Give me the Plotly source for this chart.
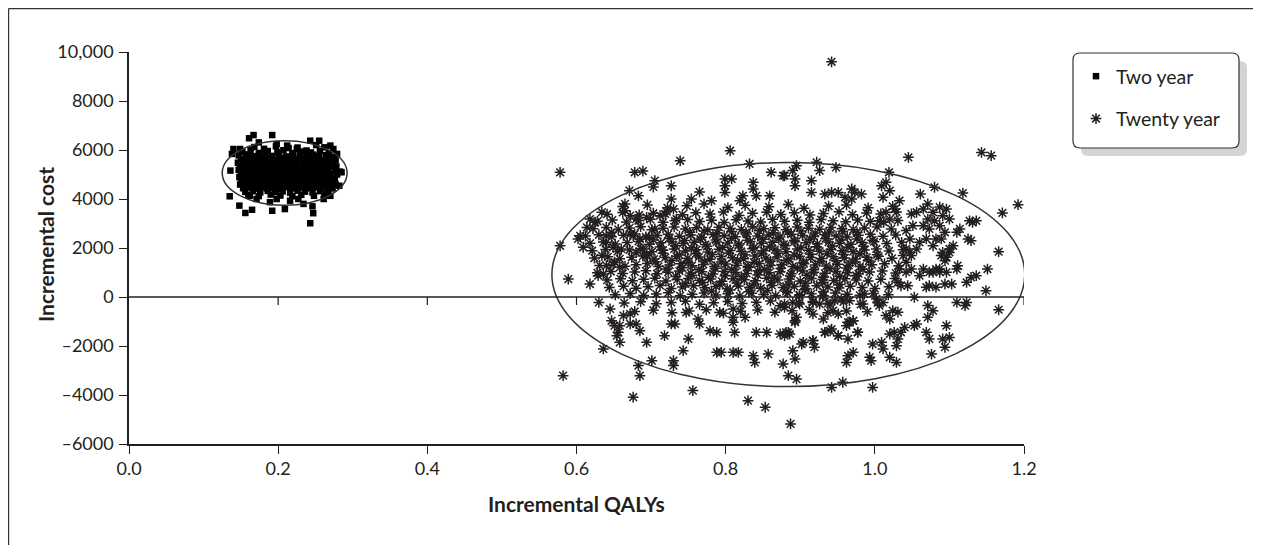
import plotly.graph_objects as go

# ---------------- data ----------------
TWO_YEAR_POINTS = [
    # outliers around the cluster
    (0.167, 6610), (0.192, 6610), (0.161, 6480), (0.140, 6040), (0.149, 6040), (0.138, 5840),
    (0.136, 5160), (0.135, 4110), (0.148, 3730), (0.156, 3430), (0.165, 3560), (0.192, 3520),
    (0.209, 3590), (0.246, 3700), (0.247, 3420), (0.243, 3010), (0.243, 6380), (0.255, 6380),
    (0.270, 6180), (0.274, 6040), (0.279, 5840), (0.285, 5090), (0.282, 4540), (0.270, 4130),
    (0.174, 6310), (0.198, 6240), (0.212, 6180), (0.225, 6040), (0.189, 3870), (0.198, 4000),
    (0.171, 4000), (0.162, 4130), (0.216, 3930), (0.227, 4000), (0.234, 3800), (0.261, 4000),
    (0.267, 4200),
    # core of the cluster
    (0.168, 6120), (0.181, 6050), (0.197, 6150), (0.214, 6080), (0.226, 6100), (0.238, 5980), (0.251, 6200), (0.262, 6110),
    (0.152, 5930), (0.163, 5990), (0.175, 5880), (0.186, 5960), (0.199, 5910), (0.207, 5990), (0.219, 5870), (0.231, 5940),
    (0.244, 5900), (0.256, 5960), (0.268, 5880),
    (0.147, 5780), (0.158, 5820), (0.166, 5750), (0.174, 5830), (0.183, 5790), (0.192, 5760), (0.201, 5810), (0.211, 5740),
    (0.220, 5800), (0.229, 5830), (0.238, 5770), (0.247, 5810), (0.255, 5750), (0.264, 5790), (0.273, 5720),
    (0.150, 5640), (0.157, 5670), (0.165, 5610), (0.173, 5690), (0.181, 5630), (0.189, 5660), (0.197, 5600), (0.205, 5680),
    (0.213, 5640), (0.221, 5610), (0.229, 5690), (0.237, 5650), (0.245, 5620), (0.253, 5670), (0.261, 5600), (0.269, 5660),
    (0.277, 5590),
    (0.146, 5480), (0.154, 5520), (0.162, 5470), (0.170, 5530), (0.178, 5490), (0.186, 5510), (0.194, 5460), (0.202, 5540),
    (0.210, 5500), (0.218, 5470), (0.226, 5520), (0.234, 5490), (0.242, 5530), (0.250, 5460), (0.258, 5510), (0.266, 5480),
    (0.274, 5440),
    (0.149, 5350), (0.157, 5320), (0.165, 5380), (0.173, 5340), (0.181, 5360), (0.189, 5310), (0.197, 5370), (0.205, 5330),
    (0.213, 5390), (0.221, 5340), (0.229, 5320), (0.237, 5370), (0.245, 5350), (0.253, 5310), (0.261, 5360), (0.269, 5340),
    (0.278, 5330),
    (0.147, 5190), (0.155, 5220), (0.163, 5170), (0.171, 5230), (0.179, 5180), (0.187, 5210), (0.195, 5160), (0.203, 5240),
    (0.211, 5200), (0.219, 5170), (0.227, 5220), (0.235, 5190), (0.243, 5230), (0.251, 5160), (0.259, 5210), (0.267, 5180),
    (0.276, 5150), (0.283, 5120),
    (0.150, 5040), (0.158, 5070), (0.166, 5020), (0.174, 5080), (0.182, 5030), (0.190, 5060), (0.198, 5010), (0.206, 5090),
    (0.214, 5050), (0.222, 5020), (0.230, 5070), (0.238, 5040), (0.246, 5080), (0.254, 5010), (0.262, 5060), (0.270, 5030),
    (0.279, 5000),
    (0.148, 4890), (0.156, 4920), (0.164, 4870), (0.172, 4930), (0.180, 4880), (0.188, 4910), (0.196, 4860), (0.204, 4940),
    (0.212, 4900), (0.220, 4870), (0.228, 4920), (0.236, 4890), (0.244, 4930), (0.252, 4860), (0.260, 4910), (0.268, 4880),
    (0.276, 4850),
    (0.151, 4740), (0.159, 4770), (0.167, 4720), (0.175, 4780), (0.183, 4730), (0.191, 4760), (0.199, 4710), (0.207, 4790),
    (0.215, 4750), (0.223, 4720), (0.231, 4770), (0.239, 4740), (0.247, 4780), (0.255, 4710), (0.263, 4760), (0.271, 4730),
    (0.149, 4590), (0.157, 4620), (0.165, 4570), (0.173, 4630), (0.181, 4580), (0.189, 4610), (0.197, 4560), (0.205, 4640),
    (0.213, 4600), (0.221, 4570), (0.229, 4620), (0.237, 4590), (0.245, 4630), (0.253, 4560), (0.261, 4610), (0.269, 4580),
    (0.277, 4600),
    (0.153, 4440), (0.161, 4470), (0.169, 4420), (0.177, 4480), (0.185, 4430), (0.193, 4460), (0.201, 4410), (0.209, 4490),
    (0.217, 4450), (0.225, 4420), (0.233, 4470), (0.241, 4440), (0.249, 4480), (0.257, 4410), (0.265, 4460), (0.273, 4430),
    (0.156, 4290), (0.166, 4320), (0.176, 4270), (0.186, 4330), (0.196, 4280), (0.206, 4310), (0.216, 4260), (0.226, 4340),
    (0.236, 4300), (0.246, 4270), (0.256, 4320), (0.266, 4290),
    (0.160, 4160), (0.174, 4120), (0.190, 4180), (0.203, 4140), (0.219, 4110), (0.231, 4170), (0.248, 4130), (0.262, 4150),
]

TWENTY_YEAR_POINTS = [
    # upper and left outliers
    (0.942, 9600), (0.578, 5090), (0.678, 5090), (0.689, 5140), (0.739, 5560), (0.806, 5970), (0.832, 5430),
    (0.705, 4750), (0.703, 4490), (0.727, 4540), (0.671, 4340), (0.683, 4130), (0.765, 4290), (0.754, 4000),
    (0.781, 3930), (0.799, 4820), (0.808, 4820), (0.799, 4540), (0.799, 4270), (0.837, 4680), (0.837, 4410),
    (0.841, 4130), (0.823, 4130), (0.819, 3930), (0.859, 4130), (0.861, 5090), (0.877, 4950), (0.890, 5160),
    (0.665, 3800), (0.665, 3520), (0.672, 3320), (0.680, 3180), (0.694, 3250), (0.634, 3460), (0.625, 3050),
    (0.618, 3180), (0.614, 2840), (0.605, 2500), (0.602, 2370), (0.609, 2030), (0.578, 2090), (0.589, 730),
    (0.618, 530), (0.629, 870), (0.636, 940), (0.640, 2500), (0.647, 2640), (0.640, 2230), (0.649, 2030),
    (0.660, 1960), (0.634, 1690), (0.640, 1280), (0.651, 1420), (0.658, 1210), (0.672, 2570), (0.676, 2500),
    (0.685, 2370), (0.689, 1960), (0.680, 1820), (0.694, 1690), (0.698, 2440), (0.705, 2780), (0.712, 3320),
    (0.719, 3390), (0.727, 4000), (0.730, 3590), (0.734, 3180),
    (0.922, 5500), (0.926, 5160), (0.948, 5290), (0.895, 5360), (0.879, 4950), (0.893, 4820), (0.893, 4540),
    (0.915, 4750), (0.915, 4270), (0.933, 4200), (0.942, 4270), (0.951, 4270), (0.960, 4070), (0.969, 4410),
    (0.973, 4270), (0.982, 4200), (0.969, 4000),
    # right side
    (1.045, 5700), (1.143, 5900), (1.156, 5770), (1.019, 5090), (1.080, 4480), (1.118, 4240), (1.061, 4200),
    (1.192, 3770), (1.171, 3430), (1.166, 1850), (1.151, 1140), (1.149, 260), (1.166, -520), (1.123, 600),
    (1.129, 800), (1.136, 870), (1.129, 2300), (1.125, 2370), (1.131, 3050), (1.136, 3110), (1.127, 3110),
    (1.114, 2780), (1.110, 2640), (1.105, 2090), (1.100, 1960), (1.111, 1280), (1.110, 1140), (1.096, 1010),
    (1.103, 530), (1.094, 530), (1.089, 1690), (1.094, 1480), (1.087, 1010), (1.110, -220), (1.121, -350),
    (1.123, -220), (1.096, -1170), (1.100, -1650), (1.091, -1710), (1.094, -2050), (1.073, -1710), (1.076, -2330),
    (1.069, -1440), (1.071, -830), (1.078, -560), (1.071, -350),
    (1.056, -1100), (1.053, -1170), (1.040, -1240), (1.035, -1440), (1.026, -1440), (1.020, -1510), (1.031, -1710),
    (1.029, -1990), (1.020, -2460), (1.029, -2670), (1.011, -2120), (1.009, -1850), (0.997, -1920), (0.993, -2460),
    (0.995, -2600), (0.997, -3690), (0.957, -3480), (0.971, -2260), (0.964, -2400), (0.962, -2670), (0.977, -1440),
    (0.964, -1710), (0.971, -970), (0.966, -1030), (1.015, -760), (1.020, -900), (1.031, -620), (1.024, -560),
    (1.006, -350), (1.011, -220), (1.002, -80),
    (1.053, -10), (1.044, 460), (1.035, 460), (1.031, 600), (1.049, 1140), (1.042, 1420), (1.047, 1820),
    (1.060, 870), (1.069, 400), (1.073, 460), (1.082, 400), (1.078, 1010), (1.087, 1140), (1.096, 1620),
    (1.100, 1820), (1.091, 1820),
    (1.009, 4540), (1.015, 4680), (1.020, 4340), (1.011, 4070), (1.033, 3930), (1.027, 3590), (1.015, 3460),
    (1.020, 3180), (1.006, 3110),
    (1.049, 3390), (1.056, 3460), (1.065, 3590), (1.071, 3800), (1.078, 3460), (1.087, 3670), (1.096, 3590),
    (1.091, 3320), (1.100, 3180), (1.071, 3180), (1.080, 3110), (1.087, 2910), (1.073, 2780), (1.065, 2910),
    (1.051, 2910), (1.042, 2710), (1.047, 2370), (1.060, 2230), (1.069, 2370), (1.082, 2370), (1.078, 2090),
    (1.089, 2370), (1.094, 2640), (1.056, 1960), (1.042, 1960), (1.038, 1690), (1.049, 1690), (1.033, 1140),
    (1.042, 1010), (1.065, 1140), (1.073, 1010), (1.082, 1140),
    # lower part
    (0.630, -220), (0.645, -490), (0.663, -760), (0.672, -690), (0.647, -970), (0.651, -1170), (0.658, -1170),
    (0.672, -1100), (0.680, -1100), (0.685, -1380), (0.656, -1440), (0.658, -1850), (0.694, -1850), (0.718, -1580),
    (0.727, -1100), (0.732, -1100), (0.747, -630), (0.750, -1710), (0.743, -2190), (0.763, -900), (0.765, -1100),
    (0.779, -1380), (0.788, -1440), (0.792, -630), (0.810, -490), (0.810, -830), (0.812, -1440), (0.810, -1030),
    (0.826, -830), (0.841, -1440), (0.855, -1440), (0.873, -1510), (0.881, -1440), (0.886, -1510),
    (0.636, -2120), (0.654, -1580), (0.582, -3210), (0.683, -2800), (0.685, -3210), (0.701, -2600), (0.730, -2600),
    (0.730, -2800), (0.676, -4090), (0.756, -3820), (0.788, -2260), (0.794, -2260), (0.810, -2260), (0.817, -2260),
    (0.837, -2400), (0.839, -2670), (0.857, -2330), (0.830, -4230), (0.853, -4500), (0.887, -5180), (0.877, -2730),
    (0.884, -3210), (0.895, -3350), (0.890, -2190), (0.893, -2530),
    (0.942, -3690), (0.904, -1850), (0.917, -1780), (0.919, -2050), (0.933, -1440), (0.942, -1310), (0.951, -1580),
    (0.873, -360), (0.879, -420), (0.890, -220), (0.899, -290), (0.893, -970), (0.893, -1030), (0.895, -830),
    (0.884, -1440), (0.879, -1580), (0.902, -1920), (0.917, -1780), (0.931, -900), (0.917, -690), (0.926, -290),
    (0.940, -290), (0.944, -560), (0.951, -690), (0.964, -1030), (0.971, -970), (0.977, -1440), (0.946, -150),
    (0.955, -80), (0.966, -150), (0.984, -290), (0.986, 120), (0.933, -1440), (0.940, -1380), (0.951, -1580),
    (0.962, -1170), (0.930, 50), (0.917, -220), (0.899, 50),
    # dense central cloud
    (0.662, 3690), (0.695, 3760), (0.722, 3640), (0.748, 3720), (0.771, 3800), (0.803, 3650), (0.826, 3740),
    (0.858, 3680), (0.884, 3780), (0.905, 3620), (0.938, 3710), (0.962, 3760), (0.991, 3640), (1.024, 3700),
    (0.641, 3380), (0.662, 3450), (0.684, 3350), (0.703, 3420), (0.721, 3480), (0.742, 3360), (0.760, 3440),
    (0.779, 3390), (0.797, 3470), (0.818, 3330), (0.836, 3420), (0.855, 3460), (0.874, 3370), (0.892, 3440),
    (0.913, 3350), (0.931, 3410), (0.952, 3480), (0.970, 3360), (0.989, 3430), (1.008, 3390), (1.029, 3470),
    (0.628, 3090), (0.648, 3140), (0.667, 3060), (0.683, 3120), (0.699, 3170), (0.716, 3050), (0.732, 3110),
    (0.749, 3160), (0.765, 3080), (0.781, 3130), (0.798, 3040), (0.814, 3150), (0.830, 3100), (0.847, 3060),
    (0.863, 3170), (0.879, 3090), (0.896, 3130), (0.912, 3050), (0.928, 3160), (0.944, 3110), (0.961, 3070),
    (0.977, 3140), (0.994, 3090), (1.012, 3050), (1.031, 3120),
    (0.622, 2790), (0.640, 2840), (0.656, 2760), (0.671, 2820), (0.686, 2870), (0.701, 2750), (0.716, 2810),
    (0.731, 2860), (0.746, 2780), (0.761, 2830), (0.776, 2740), (0.791, 2850), (0.806, 2800), (0.821, 2760),
    (0.836, 2870), (0.851, 2790), (0.866, 2830), (0.881, 2750), (0.896, 2860), (0.911, 2810), (0.926, 2770),
    (0.941, 2840), (0.956, 2790), (0.971, 2750), (0.986, 2820), (1.003, 2860), (1.022, 2780),
    (0.612, 2490), (0.630, 2540), (0.647, 2460), (0.663, 2520), (0.678, 2570), (0.693, 2450), (0.708, 2510),
    (0.723, 2560), (0.738, 2480), (0.753, 2530), (0.768, 2440), (0.783, 2550), (0.798, 2500), (0.813, 2460),
    (0.828, 2570), (0.843, 2490), (0.858, 2530), (0.873, 2450), (0.888, 2560), (0.903, 2510), (0.918, 2470),
    (0.933, 2540), (0.948, 2490), (0.963, 2450), (0.978, 2520), (0.994, 2560), (1.011, 2480), (1.028, 2530),
    (0.618, 2190), (0.636, 2240), (0.652, 2160), (0.668, 2220), (0.683, 2270), (0.698, 2150), (0.713, 2210),
    (0.728, 2260), (0.743, 2180), (0.758, 2230), (0.773, 2140), (0.788, 2250), (0.803, 2200), (0.818, 2160),
    (0.833, 2270), (0.848, 2190), (0.863, 2230), (0.878, 2150), (0.893, 2260), (0.908, 2210), (0.923, 2170),
    (0.938, 2240), (0.953, 2190), (0.968, 2150), (0.983, 2220), (0.999, 2260), (1.016, 2180), (1.036, 2230),
    (0.621, 1890), (0.639, 1940), (0.655, 1860), (0.671, 1920), (0.686, 1970), (0.701, 1850), (0.716, 1910),
    (0.731, 1960), (0.746, 1880), (0.761, 1930), (0.776, 1840), (0.791, 1950), (0.806, 1900), (0.821, 1860),
    (0.836, 1970), (0.851, 1890), (0.866, 1930), (0.881, 1850), (0.896, 1960), (0.911, 1910), (0.926, 1870),
    (0.941, 1940), (0.956, 1890), (0.971, 1850), (0.986, 1920), (1.002, 1960), (1.019, 1880), (1.038, 1930),
    (0.624, 1590), (0.642, 1640), (0.658, 1560), (0.674, 1620), (0.689, 1670), (0.704, 1550), (0.719, 1610),
    (0.734, 1660), (0.749, 1580), (0.764, 1630), (0.779, 1540), (0.794, 1650), (0.809, 1600), (0.824, 1560),
    (0.839, 1670), (0.854, 1590), (0.869, 1630), (0.884, 1550), (0.899, 1660), (0.914, 1610), (0.929, 1570),
    (0.944, 1640), (0.959, 1590), (0.974, 1550), (0.989, 1620), (1.005, 1660), (1.023, 1580),
    (0.631, 1290), (0.649, 1340), (0.665, 1260), (0.680, 1320), (0.695, 1370), (0.710, 1250), (0.725, 1310),
    (0.740, 1360), (0.755, 1280), (0.770, 1330), (0.785, 1240), (0.800, 1350), (0.815, 1300), (0.830, 1260),
    (0.845, 1370), (0.860, 1290), (0.875, 1330), (0.890, 1250), (0.905, 1360), (0.920, 1310), (0.935, 1270),
    (0.950, 1340), (0.965, 1290), (0.980, 1250), (0.996, 1320), (1.013, 1360), (1.032, 1280),
    (0.628, 990), (0.646, 1040), (0.662, 960), (0.678, 1020), (0.693, 1070), (0.708, 950), (0.723, 1010),
    (0.738, 1060), (0.753, 980), (0.768, 1030), (0.783, 940), (0.798, 1050), (0.813, 1000), (0.828, 960),
    (0.843, 1070), (0.858, 990), (0.873, 1030), (0.888, 950), (0.903, 1060), (0.918, 1010), (0.933, 970),
    (0.948, 1040), (0.963, 990), (0.978, 950), (0.993, 1020), (1.010, 1060), (1.028, 980),
    (0.641, 690), (0.659, 740), (0.675, 660), (0.690, 720), (0.705, 770), (0.720, 650), (0.735, 710),
    (0.750, 760), (0.765, 680), (0.780, 730), (0.795, 640), (0.810, 750), (0.825, 700), (0.840, 660),
    (0.855, 770), (0.870, 690), (0.885, 730), (0.900, 650), (0.915, 760), (0.930, 710), (0.945, 670),
    (0.960, 740), (0.975, 690), (0.991, 650), (1.008, 720), (1.027, 760),
    (0.644, 390), (0.663, 440), (0.680, 360), (0.696, 420), (0.712, 470), (0.727, 350), (0.742, 410),
    (0.757, 460), (0.772, 380), (0.787, 430), (0.802, 340), (0.817, 450), (0.832, 400), (0.847, 360),
    (0.862, 470), (0.877, 390), (0.892, 430), (0.907, 350), (0.922, 460), (0.937, 410), (0.952, 370),
    (0.967, 440), (0.983, 390), (1.000, 350), (1.019, 420),
    (0.652, 90), (0.672, 140), (0.690, 60), (0.707, 120), (0.723, 170), (0.739, 50), (0.755, 110),
    (0.771, 160), (0.787, 80), (0.803, 130), (0.819, 40), (0.835, 150), (0.851, 100), (0.867, 60),
    (0.883, 170), (0.899, 90), (0.915, 130), (0.931, 50), (0.947, 160), (0.963, 110), (0.980, 70),
    (0.998, 140), (1.018, 90),
    (0.664, -240), (0.686, -190), (0.707, -280), (0.727, -220), (0.746, -170), (0.765, -300), (0.784, -230),
    (0.803, -180), (0.822, -270), (0.841, -210), (0.860, -160), (0.879, -290), (0.898, -230), (0.917, -180),
    (0.937, -260), (0.958, -200), (0.981, -300), (1.004, -230),
    (0.678, -590), (0.703, -540), (0.728, -640), (0.751, -570), (0.774, -520), (0.797, -660), (0.820, -580),
    (0.843, -530), (0.866, -620), (0.889, -560), (0.912, -510), (0.937, -640), (0.962, -570), (0.990, -600),
    (0.752, 2640), (0.771, 2690), (0.789, 2610), (0.808, 2670), (0.827, 2630), (0.845, 2700), (0.864, 2620),
    (0.883, 2660), (0.901, 2690), (0.920, 2610), (0.939, 2650), (0.957, 2680), (0.976, 2630),
    (0.703, 2340), (0.724, 2390), (0.745, 2310), (0.766, 2370), (0.787, 2330), (0.808, 2400), (0.829, 2320),
    (0.850, 2360), (0.871, 2390), (0.892, 2310), (0.913, 2350), (0.934, 2380), (0.955, 2330), (0.976, 2370),
    (0.997, 2320),
    (0.712, 2040), (0.733, 2090), (0.754, 2010), (0.775, 2070), (0.796, 2030), (0.817, 2100), (0.838, 2020),
    (0.859, 2060), (0.880, 2090), (0.901, 2010), (0.922, 2050), (0.943, 2080), (0.964, 2030), (0.985, 2070),
    (0.694, 1740), (0.716, 1790), (0.738, 1710), (0.760, 1770), (0.782, 1730), (0.804, 1800), (0.826, 1720),
    (0.848, 1760), (0.870, 1790), (0.892, 1710), (0.914, 1750), (0.936, 1780), (0.958, 1730), (0.980, 1770),
    (1.003, 1720),
    (0.706, 1440), (0.728, 1490), (0.750, 1410), (0.772, 1470), (0.794, 1430), (0.816, 1500), (0.838, 1420),
    (0.860, 1460), (0.882, 1490), (0.904, 1410), (0.926, 1450), (0.948, 1480), (0.970, 1430), (0.992, 1470),
    (0.720, 1140), (0.742, 1190), (0.764, 1110), (0.786, 1170), (0.808, 1130), (0.830, 1200), (0.852, 1120),
    (0.874, 1160), (0.896, 1190), (0.918, 1110), (0.940, 1150), (0.962, 1180), (0.984, 1130),
    (0.733, 840), (0.755, 890), (0.777, 810), (0.799, 870), (0.821, 830), (0.843, 900), (0.865, 820),
    (0.887, 860), (0.909, 890), (0.931, 810), (0.953, 850), (0.975, 880),
    (0.746, 540), (0.769, 590), (0.792, 510), (0.815, 570), (0.838, 530), (0.861, 600), (0.884, 520),
    (0.907, 560), (0.930, 590), (0.953, 510),
    (0.781, 240), (0.806, 290), (0.831, 210), (0.856, 270), (0.881, 230), (0.906, 300), (0.931, 220),
]

SERIES_NAMES = ["Two year", "Twenty year"]
Y_TICK_VALUES = [-6000, -4000, -2000, 0, 2000, 4000, 6000, 8000, 10000]
Y_TICK_LABELS = ["\u20136000", "\u20134000", "\u20132000", "0", "2000", "4000", "6000", "8000", "10,000"]
X_TICK_VALUES = [0.0, 0.2, 0.4, 0.6, 0.8, 1.0, 1.2]
X_TICK_LABELS = ["0.0", "0.2", "0.4", "0.6", "0.8", "1.0", "1.2"]

# confidence ellipses (centre, half-widths) in data units
ELLIPSE_TWO = dict(cx=0.2087, cy=5061, rx=0.0837, ry=1321)
ELLIPSE_TWENTY = dict(cx=0.884, cy=915, rx=0.317, ry=4573)

# ---------------- layout geometry ----------------
# the page places the figure 8 px in from the window corner, so the figure
# is sized/positioned in window pixels minus that offset
OFF = 8
W, H = 1253, 537
ML, MT = 129 - OFF, 52 - OFF
PLOT_RIGHT, PLOT_BOTTOM = 1024 - OFF, 444 - OFF
MR, MB = W - PLOT_RIGHT, H - PLOT_BOTTOM
PW, PH = W - ML - MR, H - MT - MB
FONT = "Lato, 'Open Sans', sans-serif"
INK = "#231f20"


def px2x(px):  # window pixel -> paper x
    return (px - OFF - ML) / PW


def py2y(py):  # window pixel -> paper y
    return (H - MB - (py - OFF)) / PH


def rounded_rect(x0, y0, x1, y1, rpx):
    rx, ry = rpx / PW, rpx / PH
    return (f"M {x0 + rx},{y1} L {x1 - rx},{y1} Q {x1},{y1} {x1},{y1 - ry} "
            f"L {x1},{y0 + ry} Q {x1},{y0} {x1 - rx},{y0} L {x0 + rx},{y0} "
            f"Q {x0},{y0} {x0},{y0 + ry} L {x0},{y1 - ry} Q {x0},{y1} {x0 + rx},{y1} Z")


fig = go.Figure()

fig.add_trace(go.Scatter(
    x=[p[0] for p in TWO_YEAR_POINTS], y=[p[1] for p in TWO_YEAR_POINTS],
    mode="markers", name=SERIES_NAMES[0], legendgroup="a",
    marker=dict(symbol="square", size=6.5, color="#000000", line=dict(width=0)),
))
fig.add_trace(go.Scatter(
    x=[p[0] for p in TWENTY_YEAR_POINTS], y=[p[1] for p in TWENTY_YEAR_POINTS],
    mode="markers", name=SERIES_NAMES[1], legendgroup="b",
    marker=dict(symbol="asterisk-open", size=9, color=INK, line=dict(width=1.5, color=INK)),
))

shapes = []
for e in (ELLIPSE_TWO, ELLIPSE_TWENTY):
    shapes.append(dict(type="circle", xref="x", yref="y",
                       x0=e["cx"] - e["rx"], x1=e["cx"] + e["rx"],
                       y0=e["cy"] - e["ry"], y1=e["cy"] + e["ry"],
                       line=dict(color="#333333", width=1.5), layer="above"))
# zero line with downward ticks
shapes.append(dict(type="line", xref="x", yref="y", x0=0, x1=1.2, y0=0, y1=0,
                   line=dict(color=INK, width=1.5), layer="above"))
for xv in X_TICK_VALUES[1:]:
    shapes.append(dict(type="line", xref="x", yref="y", ysizemode="pixel", yanchor=0,
                       x0=xv, x1=xv, y0=0, y1=-8,
                       line=dict(color=INK, width=1.2), layer="above"))
# outer frame (left and top edges)
shapes.append(dict(type="line", xref="paper", yref="paper",
                   x0=px2x(OFF + 0.6), x1=px2x(OFF + 0.6), y0=py2y(OFF + 0.6), y1=py2y(H + OFF + 2),
                   line=dict(color="#333333", width=1.2)))
shapes.append(dict(type="line", xref="paper", yref="paper",
                   x0=px2x(OFF + 0.6), x1=px2x(W + OFF + 2), y0=py2y(OFF + 0.6), y1=py2y(OFF + 0.6),
                   line=dict(color="#333333", width=1.2)))
# legend box: shadow + rounded frame
lx0, lx1, ly0, ly1 = px2x(1073), px2x(1239), py2y(148), py2y(53)
sdx, sdy = 8 / PW, 8 / PH
shapes.append(dict(type="path", xref="paper", yref="paper",
                   path=rounded_rect(lx0 + sdx, ly0 - sdy, lx1 + sdx, ly1 - sdy, 7),
                   fillcolor="#d4d4d4", line=dict(width=0), layer="above"))
shapes.append(dict(type="path", xref="paper", yref="paper",
                   path=rounded_rect(lx0, ly0, lx1, ly1, 7),
                   fillcolor="#ffffff", line=dict(color="#333333", width=1.2), layer="above"))

fig.update_layout(
    width=W, height=H,
    margin=dict(l=ML, r=MR, t=MT, b=MB, pad=0),
    paper_bgcolor="white", plot_bgcolor="white",
    font=dict(family=FONT, size=18, color=INK),
    showlegend=True,
    legend=dict(x=px2x(1076), y=py2y(57), xanchor="left", yanchor="top",
                bgcolor="rgba(0,0,0,0)", borderwidth=0,
                font=dict(family=FONT, size=19.5, color=INK),
                tracegroupgap=14, traceorder="grouped", itemsizing="trace"),
    shapes=shapes,
    annotations=[
        dict(text="<b>Incremental QALYs</b>", xref="paper", yref="paper",
             x=px2x(576), y=py2y(503), xanchor="center", yanchor="middle",
             showarrow=False, font=dict(family=FONT, size=21, color=INK)),
        dict(text="<b>Incremental cost</b>", xref="paper", yref="paper",
             x=px2x(45), y=py2y(245), xanchor="center", yanchor="middle",
             textangle=-90, showarrow=False, font=dict(family=FONT, size=21, color=INK)),
    ],
)
fig.update_xaxes(range=[0, 1.2], tickvals=X_TICK_VALUES, ticktext=X_TICK_LABELS,
                 showgrid=False, zeroline=False, showline=True, linecolor=INK, linewidth=1.5,
                 ticks="outside", ticklen=8, tickwidth=1.2, tickcolor=INK,
                 tickfont=dict(size=18))
fig.update_yaxes(range=[-6000, 10000], tickvals=Y_TICK_VALUES, ticktext=Y_TICK_LABELS,
                 showgrid=False, zeroline=False, showline=True, linecolor=INK, linewidth=1.5,
                 ticks="outside", ticklen=8, tickwidth=1.2, tickcolor=INK,
                 ticklabelstandoff=2, tickfont=dict(size=18))

fig.write_html("out.html")
